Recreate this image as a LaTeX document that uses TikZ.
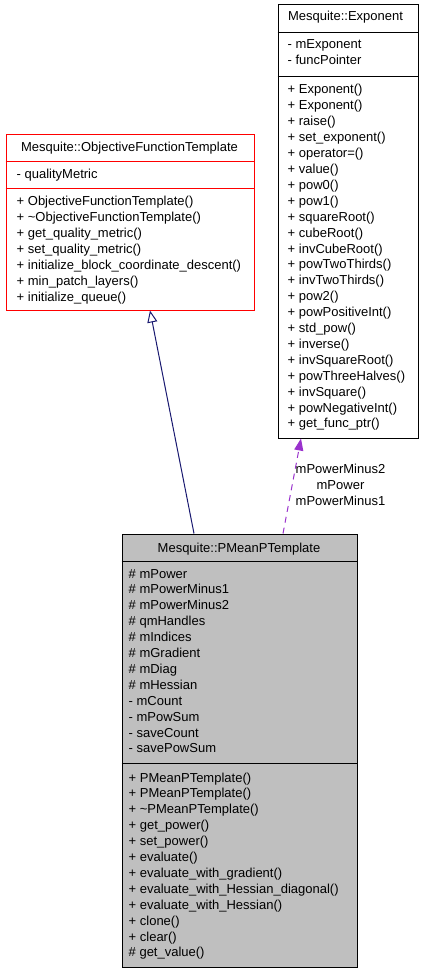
\documentclass[tikz,border=0pt]{standalone}
\usepackage{fontspec}
\setmainfont{Liberation Sans}
\usetikzlibrary{arrows.meta}
\definecolor{inhcol}{HTML}{191970}
\definecolor{usecol}{HTML}{9A32CD}
\definecolor{pmfill}{HTML}{BFBFBF}
\tikzset{
  box/.style={line width=1pt, anchor=north west, inner sep=0pt, minimum width=#1},
  txt/.style={anchor=base west, inner sep=0pt, font=\fontsize{13}{16}\selectfont},
  ttl/.style={anchor=base, inner sep=0pt, font=\fontsize{13}{16}\selectfont},
  sep/.style={line width=1pt},
}
\begin{document}
\begin{tikzpicture}[x=1pt,y=-1pt]
\useasboundingbox (0,0) rectangle (421,971);
\begin{scope}[shift={(0.5,0.5)}]
% ---------- ObjectiveFunctionTemplate
\node[box=248pt, minimum height=176pt, draw=red, fill=white] (oft) at (5,133) {};
\draw[sep, red] (5,161) -- (253,161);
\draw[sep, red] (5,188) -- (253,188);
\node[ttl] (oftt) at (129,150.5) {Mesquite::ObjectiveFunctionTemplate};
\node[txt] (ofta1) at (16,177.5) {- qualityMetric};
\foreach \t [count=\i from 0] in {%
  + ObjectiveFunctionTemplate(),
  + \textasciitilde ObjectiveFunctionTemplate(),
  + get\_quality\_metric(),
  + set\_quality\_metric(),
  + initialize\_block\_coordinate\_descent(),
  + min\_patch\_layers(),
  + initialize\_queue()}
  \node[txt] (oftm\i) at (16,204.5+16*\i) {\t};
% ---------- Exponent
\node[box=140pt, minimum height=433pt, draw=black, fill=white] (exp) at (277,4) {};
\draw[sep] (277,32) -- (417,32);
\draw[sep] (277,76) -- (417,76);
\node[ttl] (expt) at (345,20.5) {Mesquite::Exponent};
\node[txt] (expa1) at (287,48.5) {- mExponent};
\node[txt] (expa2) at (287,64.5) {- funcPointer};
\foreach \t [count=\i from 0] in {%
  + Exponent(), + Exponent(), + raise(), + set\_exponent(), + operator=(),
  + value(), + pow0(), + pow1(), + squareRoot(), + cubeRoot(), + invCubeRoot(),
  + powTwoThirds(), + invTwoThirds(), + pow2(), + powPositiveInt(), + std\_pow(),
  + inverse(), + invSquareRoot(), + powThreeHalves(), + invSquare(),
  + powNegativeInt(), + get\_func\_ptr()}
  \node[txt] (expm\i) at (287,93.5+15.9*\i) {\t};
% ---------- PMeanPTemplate
\node[box=235pt, minimum height=433pt, draw=black, fill=pmfill] (pm) at (121,533) {};
\draw[sep] (121,561) -- (356,561);
\draw[sep] (121,763) -- (356,763);
\node[ttl] (pmt) at (238.5,551.5) {Mesquite::PMeanPTemplate};
\foreach \t [count=\i from 0] in {%
  \# mPower, \# mPowerMinus1, \# mPowerMinus2, \# qmHandles, \# mIndices,
  \# mGradient, \# mDiag, \# mHessian, - mCount, - mPowSum, - saveCount, - savePowSum}
  \node[txt] (pma\i) at (128,577.5+15.9*\i) {\t};
\foreach \t [count=\i from 0] in {%
  + PMeanPTemplate(), + PMeanPTemplate(), + \textasciitilde PMeanPTemplate(),
  + get\_power(), + set\_power(), + evaluate(), + evaluate\_with\_gradient(),
  + evaluate\_with\_Hessian\_diagonal(), + evaluate\_with\_Hessian(),
  + clone(), + clear(), \# get\_value()}
  \node[txt] (pmm\i) at (128,781.5+15.9*\i) {\t};
% ---------- connectors
\draw[inhcol, line width=1pt, -{Triangle[open, length=12pt, width=10pt]}]
  ([xshift=-45.5pt]pm.north) -- ([xshift=20pt]oft.south);
\draw[usecol, line width=1pt, dash pattern=on 6pt off 5pt, -{Triangle[length=12pt, width=9pt]}]
  ([xshift=43.5pt]pm.north) -- ([xshift=-47pt]exp.south);
\node[align=center, inner sep=0pt, font=\fontsize{13}{16}\selectfont] (lbl) at (340,484)
  {mPowerMinus2\\mPower\\mPowerMinus1};
\end{scope}
\end{tikzpicture}
\end{document}
